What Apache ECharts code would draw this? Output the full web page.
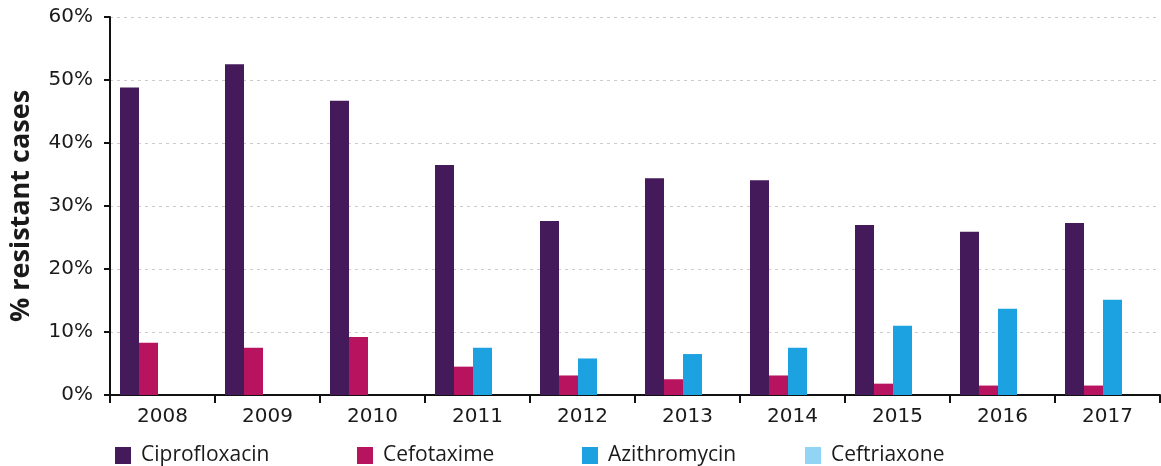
<!DOCTYPE html>
<html><head><meta charset="utf-8">
<script src="https://cdn.jsdelivr.net/npm/echarts@6/dist/echarts.min.js"></script>
<style>html,body{margin:0;padding:0;background:#fff}#c{width:1161px;height:466px}</style>
</head><body><div id="c"></div>
<script>
const years = ['2008','2009','2010','2011','2012','2013','2014','2015','2016','2017'];
const ciprofloxacin = [48.8, 52.5, 46.7, 36.5, 27.6, 34.4, 34.1, 27.0, 25.9, 27.3];
const cefotaxime    = [8.3, 7.5, 9.2, 4.5, 3.1, 2.5, 3.1, 1.8, 1.5, 1.5];
const azithromycin  = [null, null, null, 7.5, 5.8, 6.5, 7.5, 11.0, 13.7, 15.1];
const ceftriaxone   = [null, null, null, null, null, null, null, null, null, null];
const seriesNames = ['Ciprofloxacin','Cefotaxime','Azithromycin','Ceftriaxone'];
const colors = ['#441a5a','#b8135f','#1ca1e1','#92d4f4'];

const font = 'Open Sans';
const axisFont = 'DejaVu Sans';
const chart = echarts.init(document.getElementById('c'));
const values = [ciprofloxacin, cefotaxime, azithromycin, ceftriaxone];
const legendLeft = [110, 352, 577, 800];

const series = seriesNames.map((n, i) => ({
  name: n, type: 'bar', data: values[i], barWidth: 19, barGap: 0,
  itemStyle: {color: colors[i]}
}));
// empty spacer slot so the bar group sits left of the category centre, as in the reference
series.push({name: '_spacer', type: 'bar', data: [], barWidth: 9, barGap: 0, silent: true});

chart.setOption({
  animation: false,
  color: colors,
  grid: {left: 110, right: 1, top: 17, bottom: 71},
  legend: seriesNames.map((n, i) => ({
    data: [n], left: legendLeft[i], top: 440, icon: 'rect', itemWidth: 16, itemHeight: 17,
    textStyle: {fontFamily: font, fontSize: 21, color: '#1a1a1a', padding: [0, 0, 0, 5]}
  })),
  xAxis: {
    type: 'category', data: years,
    axisLine: {lineStyle: {color: '#111', width: 2}},
    axisTick: {show: true, length: 8, lineStyle: {color: '#111', width: 2}},
    axisLabel: {fontFamily: axisFont, fontSize: 20, color: '#1a1a1a', margin: 12}
  },
  yAxis: {
    type: 'value', min: 0, max: 60, interval: 10,
    name: '% resistant cases', nameLocation: 'middle', nameGap: 75,
    nameTextStyle: {fontFamily: font, fontSize: 27, fontWeight: 'bold', color: '#1a1a1a'},
    axisLine: {show: true, lineStyle: {color: '#111', width: 2}},
    axisTick: {show: true, length: 6, lineStyle: {color: '#111', width: 2}},
    axisLabel: {fontFamily: axisFont, fontSize: 20, color: '#1a1a1a', margin: 17, formatter: v => v + '%'},
    splitLine: {show: true, lineStyle: {color: '#cccccc', type: [3, 4], width: 1}}
  },
  series: series
});
</script></body></html>
